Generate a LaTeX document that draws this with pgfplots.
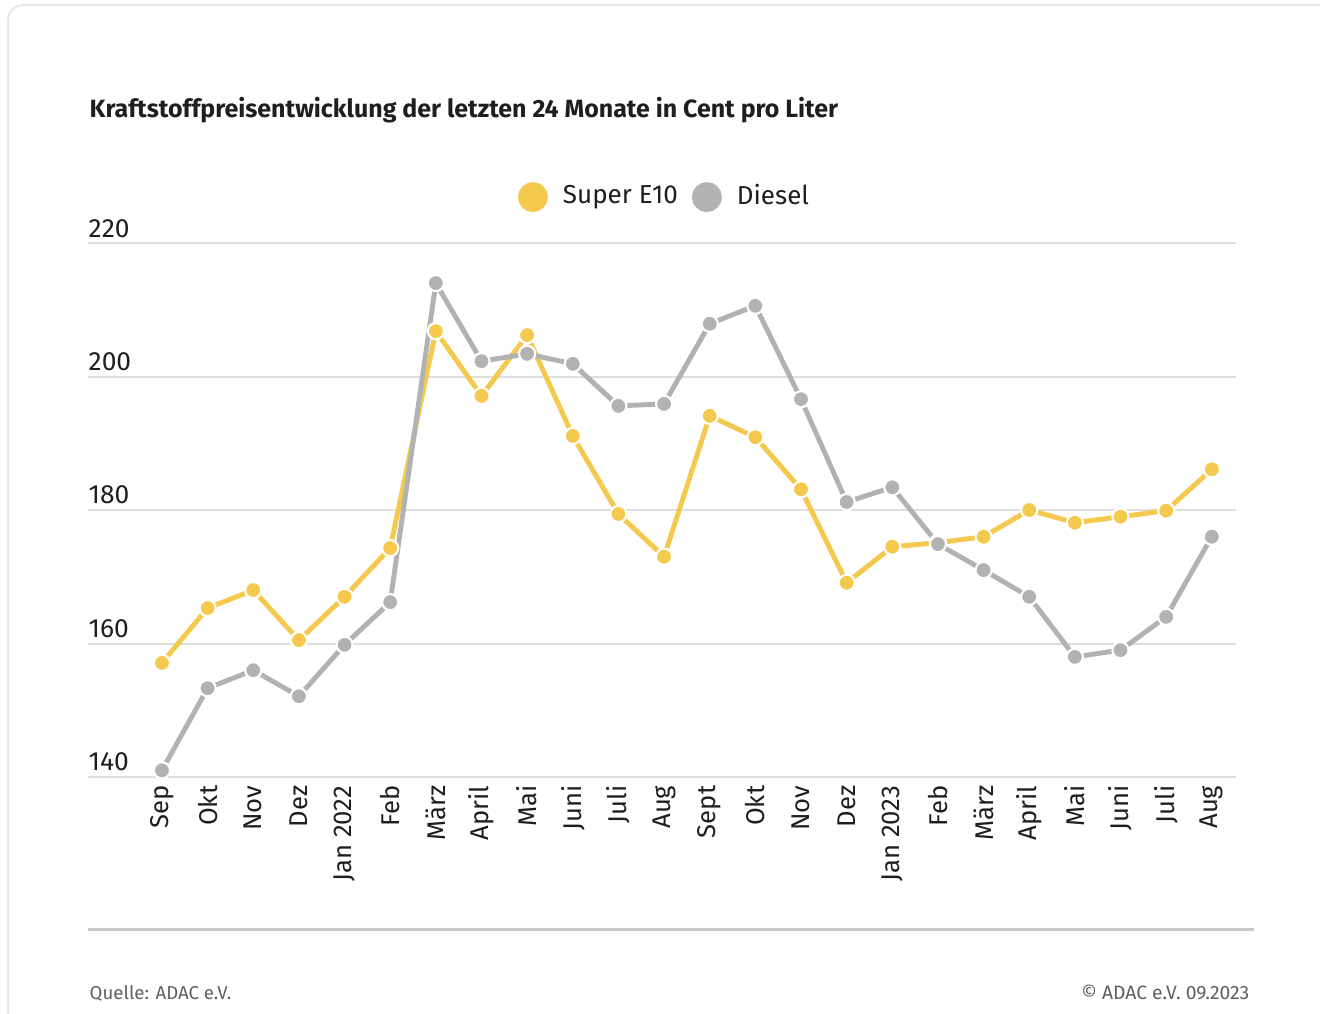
\documentclass[border=0pt]{standalone}
\usepackage{fontspec}
\setmainfont{Fira Sans}
\usepackage{pgfplots}
\pgfplotsset{compat=1.18}
\definecolor{e10}{RGB}{245,201,78}
\definecolor{diesel}{RGB}{178,178,178}
\definecolor{gridc}{RGB}{222,222,222}
\definecolor{txt}{RGB}{30,30,30}
\definecolor{foot}{RGB}{95,95,95}
\definecolor{card}{RGB}{232,232,232}
\definecolor{sepline}{RGB}{200,200,200}

\begin{document}
\begin{tikzpicture}[x=1cm,y=1cm]
\useasboundingbox (0,0) rectangle (13.2,10.13);
\begin{scope}
  \clip (0,0) rectangle (13.2,10.13);
  \draw[line width=0.02cm, card, rounded corners=0.15cm] (0.08,-1) rectangle (14,10.08);
\end{scope}
\node[anchor=base west, inner sep=0pt, text=txt, font=\bfseries\fontsize{7.1}{8}\selectfont]
  at (0.89,8.95) {Kraftstoffpreisentwicklung der letzten 24 Monate in Cent pro Liter};

\begin{axis}[
  at={(0.88cm,2.36cm)}, anchor=south west,
  scale only axis, width=11.48cm, height=5.34cm,
  xmin=-1.62, xmax=23.53, ymin=140, ymax=220,
  axis line style={draw=none},
  major tick length=0pt,
  ytick={140,160,180,200,220},
  ymajorgrids, grid style={gridc, line width=0.02cm},
  yticklabel style={anchor=south west, inner sep=0pt, yshift=0.05cm, text=txt,
    font=\fontsize{7.5}{8}\selectfont},
  xtick={0,...,23},
  xticklabels={Sep,Okt,Nov,Dez,Jan 2022,Feb,März,April,Mai,Juni,Juli,Aug,
    Sept,Okt,Nov,Dez,Jan 2023,Feb,März,April,Mai,Juni,Juli,Aug},
  xticklabel style={rotate=90, anchor=east, inner xsep=0.08cm, inner ysep=0pt, text=txt,
    font=\fontsize{7.3}{8}\selectfont},
  /pgf/number format/assume math mode=true,
  clip=false,
  legend style={at={(0.5044,1.086)}, anchor=center, draw=none, fill=none,
    font=\fontsize{7.4}{8}\selectfont, text=txt,
    /tikz/every odd column/.append style={column sep=0.08cm},
    /tikz/every even column/.append style={column sep=0.07cm}},
  legend columns=-1,
]
\addplot[e10, line width=1.4pt, mark=*, mark size=2.3pt,
  mark options={fill=e10, draw=white, line width=0.6pt},
  legend image code/.code={\fill[e10] (0.13cm,0cm) circle (0.125cm);}]
coordinates {
  (0,157.1)(1,165.3)(2,168.0)(3,160.5)(4,167.0)(5,174.3)(6,206.8)(7,197.1)
  (8,206.2)(9,191.1)(10,179.4)(11,173.0)(12,194.1)(13,190.9)(14,183.1)(15,169.1)
  (16,174.5)(17,175.1)(18,176.0)(19,180.0)(20,178.1)(21,179.0)(22,179.9)(23,186.1)
};
\addlegendentry{Super E10}
\addplot[diesel, line width=1.4pt, mark=*, mark size=2.3pt,
  mark options={fill=diesel, draw=white, line width=0.6pt},
  legend image code/.code={\fill[diesel] (0.13cm,0cm) circle (0.125cm);}]
coordinates {
  (0,141.0)(1,153.3)(2,156.0)(3,152.1)(4,159.8)(5,166.2)(6,214.0)(7,202.3)
  (8,203.4)(9,201.9)(10,195.6)(11,195.9)(12,207.9)(13,210.6)(14,196.6)(15,181.2)
  (16,183.4)(17,174.9)(18,171.0)(19,167.0)(20,158.0)(21,159.0)(22,164.0)(23,176.0)
};
\addlegendentry{Diesel}
\end{axis}

\draw[line width=0.03cm, sepline] (0.88,0.84) -- (12.54,0.84);
\node[anchor=base west, inner sep=0pt, text=foot, font=\fontsize{5.3}{7}\selectfont]
  at (0.89,0.14) {Quelle: ADAC e.V.};
\node[anchor=base east, inner sep=0pt, text=foot, font=\fontsize{5.5}{7}\selectfont]
  at (12.50,0.14) {© ADAC e.V. 09.2023};
\end{tikzpicture}
\end{document}
